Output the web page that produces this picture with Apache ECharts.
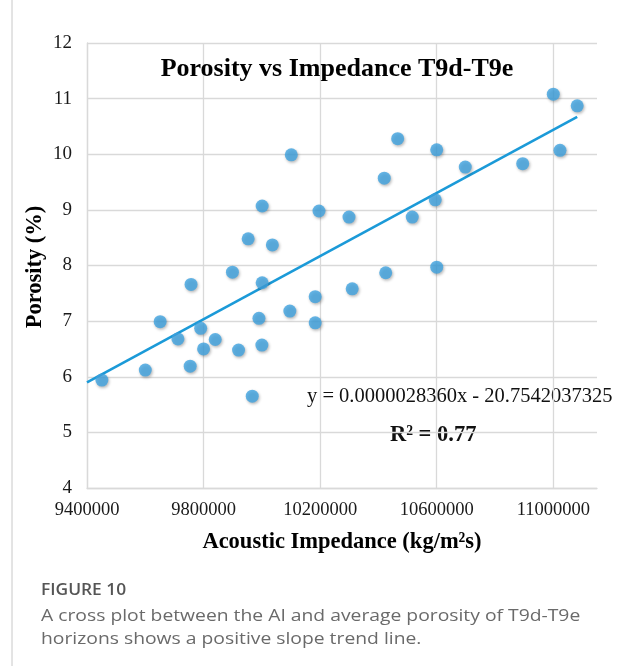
<!DOCTYPE html>
<html><head><meta charset="utf-8">
<script src="https://cdn.jsdelivr.net/npm/echarts@6/dist/echarts.min.js"></script>
<style>html,body{margin:0;padding:0;background:#fff}#c{width:623px;height:666px}</style>
</head><body><div id="c"></div>
<script>
// Acoustic impedance (kg/m²s)
const impedance = [9451000, 9600000, 9651000, 9757000, 9712000, 9790000, 9754000, 9840000, 9800000, 9920000,
  10000000, 9990000, 10001000, 9899000, 9967000, 10101000, 10001000, 9953000, 10036000, 10196000,
  10299000, 10420000, 10466000, 10516000, 10310000, 10425000, 10183000, 10183000, 10096000, 11000000,
  11082000, 11023000, 10895000, 10698000, 10600000, 10595000, 10600000];
// Porosity (%)
const porosity = [5.94, 6.12, 6.99, 7.66, 6.68, 6.87, 6.19, 6.67, 6.50, 6.48,
  6.57, 7.05, 7.69, 7.88, 5.65, 9.99, 9.07, 8.48, 8.37, 8.98,
  8.87, 9.57, 10.28, 8.87, 7.58, 7.87, 7.44, 6.97, 7.18, 11.08,
  10.87, 10.07, 9.83, 9.77, 10.08, 9.18, 7.97];
// Trend line end points
const trendX = [9400000, 11082000];
const trendY = [5.90, 10.67];
const xTicks = [9400000, 9800000, 10200000, 10600000, 11000000];
const xMax = 11150000;
const yTicks = [4, 5, 6, 7, 8, 9, 10, 11, 12];

const points = impedance.map((x, i) => [x, porosity[i]]);
const trend = trendX.map((x, i) => [x, trendY[i]]);
const serif = '"Liberation Serif","Times New Roman",serif';
const sans = '"Open Sans", sans-serif';

const chart = echarts.init(document.getElementById('c'), null, {renderer: 'canvas'});
chart.setOption({
  animation: false,
  backgroundColor: '#fff',
  grid: {left: 87, right: 26, top: 43, bottom: 178, containLabel: false},
  title: {
    text: 'Porosity vs Impedance T9d-T9e', left: 332, top: 51, textAlign: 'center',
    textStyle: {fontFamily: serif, fontWeight: 'bold', fontSize: 26, color: '#000'}
  },
  xAxis: {
    type: 'value', min: xTicks[0], max: xMax, interval: 400000,
    axisLine: {show: true, lineStyle: {color: '#d9d9d9', width: 1.3}},
    axisTick: {show: false},
    splitLine: {show: true, showMaxLine: false, lineStyle: {color: '#d9d9d9', width: 1.3}},
    axisLabel: {fontFamily: serif, fontSize: 18.5, color: '#1a1a1a', margin: 13, showMaxLabel: false,
      formatter: v => xTicks.includes(v) ? String(v) : ''},
    name: 'Acoustic Impedance (kg/m²s)', nameLocation: 'middle', nameGap: 43,
    nameTextStyle: {fontFamily: serif, fontWeight: 'bold', fontSize: 22.5, color: '#000'}
  },
  yAxis: {
    type: 'value', min: yTicks[0], max: yTicks[yTicks.length - 1], interval: 1,
    axisLine: {show: true, lineStyle: {color: '#d9d9d9', width: 1.3}},
    axisTick: {show: false},
    splitLine: {show: true, lineStyle: {color: '#d9d9d9', width: 1.3}},
    axisLabel: {fontFamily: serif, fontSize: 19, color: '#1a1a1a', margin: 15}
  },
  series: [
    {
      type: 'line', data: trend, symbol: 'none', z: 2,
      lineStyle: {color: '#1b9ad8', width: 2.6}
    },
    {
      type: 'scatter', data: points, symbol: 'circle', symbolSize: 13, z: 3,
      itemStyle: {color: '#3fa2e0', shadowBlur: 3, shadowColor: 'rgba(0,0,0,0.35)', shadowOffsetX: 1, shadowOffsetY: 1.5}
    }
  ],
  graphic: [
    {type: 'line', shape: {x1: 12, y1: 0, x2: 12, y2: 666}, style: {stroke: '#c8c8c8', lineWidth: 1}},
    {type: 'text', x: 35, y: 267, rotation: Math.PI / 2, style: {text: 'Porosity (%)', font: 'bold 22.5px ' + serif, fill: '#000', textAlign: 'center', textVerticalAlign: 'middle'}},
    {type: 'text', left: 307, top: 386, style: {text: 'y = 0.0000028360x - 20.7542037325', font: '20.5px ' + serif, fill: '#111'}},
    {type: 'text', left: 390, top: 424, style: {text: 'R² = 0.77', font: 'bold 22.5px ' + serif, fill: '#111'}},
    {type: 'text', x: 41, y: 591, scaleX: 1.12, style: {text: 'FIGURE 10', font: '600 15.5px ' + sans, fill: '#555', textVerticalAlign: 'middle'}},
    {type: 'text', x: 41, y: 616, scaleX: 1.17, style: {text: 'A cross plot between the AI and average porosity of T9d-T9e', font: '16.5px ' + sans, fill: '#6a6a6a', textVerticalAlign: 'middle'}},
    {type: 'text', x: 41, y: 639, scaleX: 1.17, style: {text: 'horizons shows a positive slope trend line.', font: '16.5px ' + sans, fill: '#6a6a6a', textVerticalAlign: 'middle'}}
  ]
});
</script></body></html>
